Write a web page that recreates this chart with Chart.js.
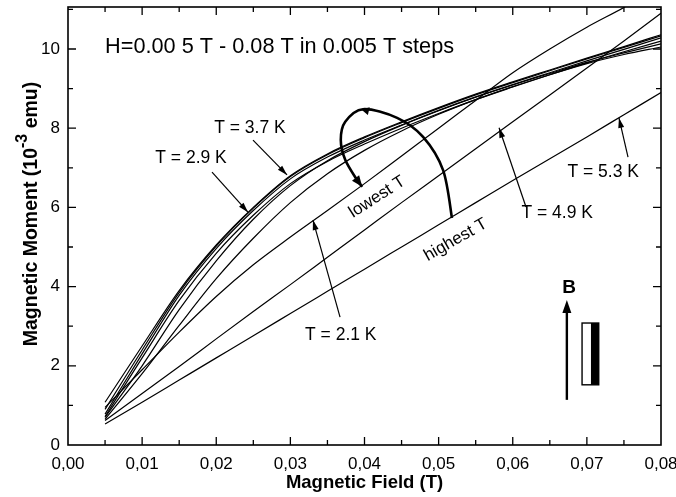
<!DOCTYPE html>
<html>
<head>
<meta charset="utf-8">
<script src="https://cdn.jsdelivr.net/npm/chart.js@4.4.1/dist/chart.umd.min.js"></script>
<style>
  body { margin: 0; background: #fff; }
  canvas { display: block; }
</style>
</head>
<body>
<canvas id="momentChart" width="676" height="497"></canvas>
<script>
// field steps (T)
const fields = [0.005, 0.010, 0.015, 0.020, 0.025, 0.030, 0.035, 0.040,
                0.045, 0.050, 0.055, 0.060, 0.065, 0.070, 0.075, 0.080];

// magnetic moment (10^-3 emu), one array per temperature
const m21 = [0.95, 1.90, 2.85, 3.75, 4.55, 5.25, 5.92, 6.60, 7.30, 8.00, 8.70, 9.40, 10.00, 10.55, 11.05, 11.60];
const m25 = [0.72, 2.20, 3.65, 4.84, 5.80, 6.60, 7.16, 7.60, 8.00, 8.37, 8.72, 9.04, 9.35, 9.65, 9.93, 10.20];
const m29 = [0.78, 2.30, 3.78, 4.96, 5.92, 6.72, 7.27, 7.70, 8.08, 8.45, 8.79, 9.10, 9.40, 9.70, 9.99, 10.28];
const m33 = [0.90, 2.40, 3.85, 5.02, 5.98, 6.78, 7.33, 7.76, 8.14, 8.50, 8.84, 9.15, 9.45, 9.75, 10.04, 10.33];
const m37 = [1.08, 2.50, 3.90, 5.05, 6.00, 6.80, 7.35, 7.78, 8.16, 8.52, 8.86, 9.17, 9.47, 9.77, 10.06, 10.36];
const m41 = [0.70, 2.00, 3.42, 4.65, 5.70, 6.55, 7.18, 7.66, 8.07, 8.44, 8.78, 9.09, 9.38, 9.66, 9.90, 10.13];
const m45 = [0.65, 1.80, 3.02, 4.20, 5.22, 6.12, 6.85, 7.44, 7.93, 8.35, 8.72, 9.05, 9.35, 9.63, 9.86, 10.05];
const m49 = [0.62, 1.30, 1.98, 2.68, 3.37, 4.05, 4.74, 5.43, 6.12, 6.80, 7.48, 8.16, 8.84, 9.52, 10.20, 10.90];
const m53 = [0.53, 1.08, 1.64, 2.20, 2.76, 3.32, 3.88, 4.44, 5.00, 5.56, 6.12, 6.68, 7.23, 7.78, 8.34, 8.90];

const temps = ['2.1 K', '2.5 K', '2.9 K', '3.3 K', '3.7 K', '4.1 K', '4.5 K', '4.9 K', '5.3 K'];
const moments = [m21, m25, m29, m33, m37, m41, m45, m49, m53];

const FONT = '"Liberation Sans", Arial, sans-serif';

function pt(chart, x, y) {
  return [chart.scales.x.getPixelForValue(x), chart.scales.y.getPixelForValue(y)];
}

function head(ctx, x1, y1, x2, y2, len, wid) {
  const a = Math.atan2(y2 - y1, x2 - x1);
  ctx.beginPath();
  ctx.moveTo(x2, y2);
  ctx.lineTo(x2 - len * Math.cos(a) + wid * Math.sin(a), y2 - len * Math.sin(a) - wid * Math.cos(a));
  ctx.lineTo(x2 - len * Math.cos(a) - wid * Math.sin(a), y2 - len * Math.sin(a) + wid * Math.cos(a));
  ctx.closePath();
  ctx.fill();
}

function arrow(chart, from, to) {
  const ctx = chart.ctx;
  const a = pt(chart, from[0], from[1]);
  const b = pt(chart, to[0], to[1]);
  ctx.beginPath();
  ctx.moveTo(a[0], a[1]);
  ctx.lineTo(b[0], b[1]);
  ctx.stroke();
  head(ctx, a[0], a[1], b[0], b[1], 10, 3);
}

function label(chart, text, x, y, size, rot, align) {
  const ctx = chart.ctx;
  const p = pt(chart, x, y);
  ctx.save();
  ctx.translate(p[0], p[1]);
  ctx.rotate(rot || 0);
  ctx.font = size + 'px ' + FONT;
  ctx.textAlign = align || 'center';
  ctx.textBaseline = 'middle';
  ctx.fillText(text, 0, 0);
  ctx.restore();
}

function smooth(ctx, pts) {
  ctx.moveTo(pts[0][0], pts[0][1]);
  for (let i = 0; i < pts.length - 1; i++) {
    const p0 = pts[i - 1] || pts[i], p1 = pts[i], p2 = pts[i + 1], p3 = pts[i + 2] || p2;
    ctx.bezierCurveTo(p1[0] + (p2[0] - p0[0]) / 6, p1[1] + (p2[1] - p0[1]) / 6,
                      p2[0] - (p3[0] - p1[0]) / 6, p2[1] - (p3[1] - p1[1]) / 6, p2[0], p2[1]);
  }
}

const background = {
  id: 'background',
  beforeDraw(chart) {
    const ctx = chart.ctx;
    ctx.save();
    ctx.fillStyle = '#fff';
    ctx.fillRect(0, 0, chart.width, chart.height);
    ctx.restore();
  }
};

const frame = {
  id: 'frame',
  afterDatasetsDraw(chart) {
    const {ctx, chartArea: a, scales: {x, y}} = chart;
    ctx.save();
    ctx.strokeStyle = '#000';
    ctx.lineWidth = 1.6;
    ctx.strokeRect(a.left, a.top, a.right - a.left, a.bottom - a.top);
    ctx.lineWidth = 1.3;
    ctx.beginPath();
    for (let i = 1; i < 16; i++) {
      const p = x.getPixelForValue(i * 0.005);
      const len = i % 2 ? 5 : 8;
      ctx.moveTo(p, a.bottom); ctx.lineTo(p, a.bottom - len);
      ctx.moveTo(p, a.top); ctx.lineTo(p, a.top + len);
    }
    for (let v = 1; v <= 11; v++) {
      const p = y.getPixelForValue(v);
      const len = v % 2 ? 5 : 8;
      ctx.moveTo(a.left, p); ctx.lineTo(a.left + len, p);
      ctx.moveTo(a.right, p); ctx.lineTo(a.right - len, p);
    }
    ctx.stroke();

    // y axis title with superscript
    ctx.save();
    ctx.translate(32, 214);
    ctx.rotate(-Math.PI / 2);
    ctx.fillStyle = '#000';
    ctx.textBaseline = 'middle';
    ctx.textAlign = 'left';
    const big = 'bold 19.5px ' + FONT, small = 'bold 16px ' + FONT;
    const s1 = 'Magnetic Moment (10', s2 = '-3', s3 = ' emu)';
    ctx.font = big; const w1 = ctx.measureText(s1).width, w3 = ctx.measureText(s3).width;
    ctx.font = small; const w2 = ctx.measureText(s2).width;
    let sx = -(w1 + w2 + w3) / 2;
    ctx.font = big; ctx.fillText(s1, sx, 0);
    ctx.font = small; ctx.fillText(s2, sx + w1, -9);
    ctx.font = big; ctx.fillText(s3, sx + w1 + w2, 0);
    ctx.restore();
    ctx.restore();
  }
};

const notes = {
  id: 'notes',
  afterDraw(chart) {
    const ctx = chart.ctx;
    ctx.save();
    ctx.fillStyle = '#000';
    ctx.strokeStyle = '#000';
    ctx.lineWidth = 1.2;

    label(chart, 'H=0.00 5 T - 0.08 T in 0.005 T steps', 0.005, 10.05, 21.7, 0, 'left');
    label(chart, 'T = 3.7 K', 0.02455, 8.0, 17.5);
    label(chart, 'T = 2.9 K', 0.0166, 7.25, 17.5);
    label(chart, 'T = 5.3 K', 0.0722, 6.9, 17.5);
    label(chart, 'T = 4.9 K', 0.066, 5.86, 17.5);
    label(chart, 'T = 2.1 K', 0.0368, 2.78, 17.5);
    label(chart, 'lowest T', 0.0417, 6.26, 17, -0.57);
    label(chart, 'highest T', 0.0523, 5.18, 17, -0.52);

    arrow(chart, [0.02496, 7.70], [0.02955, 6.82]);
    arrow(chart, [0.01943, 6.89], [0.02428, 5.88]);
    arrow(chart, [0.07555, 7.27], [0.07433, 8.26]);
    arrow(chart, [0.06179, 6.01], [0.05815, 8.01]);
    arrow(chart, [0.0367, 3.23], [0.03305, 5.68]);

    // curved temperature arrow
    const loop = [[0.0518, 5.73], [0.0506, 6.94], [0.0479, 7.78], [0.0444, 8.26], [0.0398, 8.48],
                  [0.0374, 8.16], [0.0368, 7.70], [0.0374, 7.20], [0.0390, 6.69], [0.0397, 6.52]]
      .map(p => pt(chart, p[0], p[1]));
    ctx.lineWidth = 2.6;
    ctx.beginPath();
    smooth(ctx, loop);
    ctx.stroke();
    head(ctx, loop[8][0], loop[8][1], loop[9][0], loop[9][1], 11, 4.5);
    head(ctx, loop[3][0], loop[3][1], loop[4][0] - 2, loop[4][1], 8, 4);

    // field direction and sample
    ctx.lineWidth = 2.4;
    const b0 = pt(chart, 0.0673, 1.14), b1 = pt(chart, 0.0673, 3.66);
    ctx.beginPath();
    ctx.moveTo(b0[0], b0[1]);
    ctx.lineTo(b1[0], b1[1] + 6);
    ctx.stroke();
    head(ctx, b0[0], b0[1], b1[0], b1[1], 13, 4.5);
    const bl = pt(chart, 0.0676, 3.98);
    ctx.font = 'bold 19px ' + FONT;
    ctx.textAlign = 'center';
    ctx.textBaseline = 'middle';
    ctx.fillText('B', bl[0], bl[1]);

    const r0 = pt(chart, 0.06935, 3.08), r1 = pt(chart, 0.0716, 1.52), rm = pt(chart, 0.07055, 0);
    ctx.fillRect(rm[0], r0[1], r1[0] - rm[0], r1[1] - r0[1]);
    ctx.lineWidth = 1.4;
    ctx.strokeRect(r0[0], r0[1], r1[0] - r0[0], r1[1] - r0[1]);
    ctx.restore();
  }
};

new Chart(document.getElementById('momentChart'), {
  type: 'line',
  data: {
    datasets: moments.map((vals, k) => ({
      label: temps[k],
      data: fields.map((f, i) => ({x: f, y: vals[i]})),
      borderColor: '#000',
      borderWidth: 1.2,
      pointRadius: 0,
      fill: false,
      cubicInterpolationMode: 'monotone'
    }))
  },
  options: {
    responsive: false,
    animation: false,
    layout: { padding: { top: 7, right: 15, left: 0, bottom: 0 } },
    plugins: {
      legend: { display: false },
      tooltip: { enabled: false }
    },
    scales: {
      x: {
        type: 'linear',
        min: 0,
        max: 0.08,
        grid: { display: false, drawTicks: false },
        border: { display: false },
        ticks: {
          stepSize: 0.01,
          padding: 9,
          color: '#000',
          font: { family: FONT, size: 17 },
          maxRotation: 0,
          callback: v => v.toFixed(2).replace('.', ',')
        },
        title: {
          display: true,
          text: 'Magnetic Field (T)',
          color: '#000',
          font: { family: FONT, size: 18.5, weight: 'bold' },
          padding: { top: 0, bottom: 3 }
        },
        afterFit(scale) {
          scale.height = 52;
          scale.paddingLeft = 0;
          scale.paddingRight = 0;
        }
      },
      y: {
        type: 'linear',
        min: 0,
        max: 11.06,
        grid: { display: false, drawTicks: false },
        border: { display: false },
        ticks: {
          stepSize: 2,
          includeBounds: false,
          padding: 8,
          color: '#000',
          font: { family: FONT, size: 17 }
        },
        afterFit(scale) {
          scale.width = 68;
          scale.paddingTop = 0;
          scale.paddingBottom = 0;
        }
      }
    }
  },
  plugins: [background, frame, notes]
});
</script>
</body>
</html>
